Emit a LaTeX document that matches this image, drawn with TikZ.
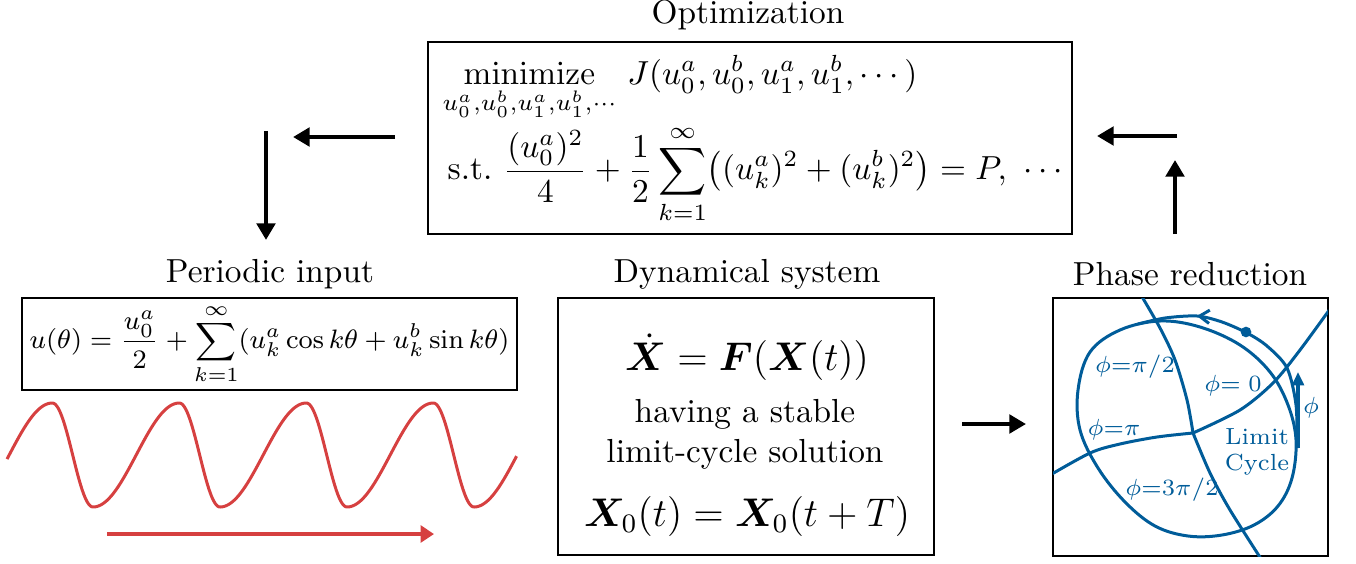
\documentclass[tikz,border=0pt]{standalone}
\usepackage{amsmath}
\usepackage{bm}
\usetikzlibrary{arrows.meta,decorations.markings}

\definecolor{cycleblue}{RGB}{0,92,153}
\definecolor{inputred}{RGB}{214,64,64}

\begin{document}
\begin{tikzpicture}[x=0.3pt, y=-0.3pt,
    box/.style={draw, line width=0.8pt, inner sep=0pt},
    flow/.style={line width=1.3pt, -{Triangle[length=5pt,width=5.5pt]}},
    iso/.style={cycleblue, line width=0.9pt},
    lbl/.style={cycleblue, font=\scriptsize, inner sep=0pt},
    declare function={wave(\t)=((\t-floor(\t))<0.68) ? (0-cos(180*(\t-floor(\t))/0.68)) : cos(180*(\t-floor(\t)-0.68)/0.32);}]
    \useasboundingbox (0,0) rectangle (1356,563);

    % Titles
    \node (optT) at (748,15) {Optimization};
    \node (inT) at (270,274) {Periodic input};
    \node (sysT) at (747,274) {Dynamical system};
    \node (phT) at (1190,274) {Phase reduction};

    % Optimization box
    \node[box, minimum width=193.2pt, minimum height=57.6pt] (opt) at (750,138) {};
    \node[anchor=base west, inner sep=0pt] (cost) at (442,85)
        {$\displaystyle\operatorname*{minimize}_{u_0^a,u_0^b,u_1^a,u_1^b,\cdots}\,J(u_0^a,u_0^b,u_1^a,u_1^b,\cdots)$};
    \node[anchor=base west, inner sep=0pt] (cons) at (447,180)
        {$\text{s.t.}\ \dfrac{(u_0^a)^2}{4}+\dfrac{1}{2}\displaystyle\sum_{k=1}^{\infty}\bigl((u_k^a)^2+(u_k^b)^2\bigr)=P,\ \cdots$};

    % Periodic input box and waveform
    \node[box, minimum width=148.5pt, minimum height=27.6pt, font=\footnotesize] (inbox) at (269.5,344)
        {$\displaystyle u(\theta)=\frac{u_0^a}{2}+\sum_{k=1}^{\infty}(u_k^a\cos k\theta+u_k^b\sin k\theta)$};
    \draw[inputred, line width=0.9pt] plot[domain=0.323:4.339, samples=400]
        ({93+(\x-1)*127}, {455-52*wave(\x)});

    % Dynamical system box
    \node[box, minimum width=112.8pt, minimum height=77.1pt] (sys) at (746,426.5) {};
    \node (ode) at (747,357) {\large$\dot{\bm X}=\bm F(\bm X(t))$};
    \node[align=center] (desc) at (745,434) {having a stable\\limit-cycle solution};
    \node (orbit) at (747,516) {\large$\bm X_0(t)=\bm X_0(t+T)$};

    % Phase reduction box
    \node[box, minimum width=82.5pt, minimum height=77.4pt] (ph) at (1190.5,427) {};
    \coordinate (ctr) at (1193,433);
    \begin{scope}
        \clip (1053,298) rectangle (1328,556);
        % isochrons
        \draw[iso] plot[smooth] coordinates {(ctr) (1240,410) (1273,383) (1300,350) (1335,302)};
        \draw[iso] plot[smooth] coordinates {(ctr) (1157,437) (1120,444) (1090,453) (1045,478)};
        \draw[iso] plot[smooth] coordinates {(ctr) (1187,400) (1175,360) (1160,328) (1138,290)};
        \draw[iso] plot[smooth] coordinates {(ctr) (1210,473) (1230,510) (1265,565)};
        % limit cycle
        \draw[iso] plot[smooth cycle, tension=0.6] coordinates {(1160,321) (1200,327) (1240,345)
            (1270,372) (1288,405) (1296,440) (1292,478) (1278,506) (1254,525) (1222,535)
            (1188,536) (1155,526) (1125,502) (1098,468) (1080,430) (1078,390) (1090,352) (1120,330)};
        % orbit direction
        \draw[iso, postaction={decorate}, decoration={markings,
            mark=at position 0.76 with {\arrow{Straight Barb[length=3pt,width=4pt]}}}]
            plot[smooth] coordinates {(1297,448) (1296,405) (1287,368) (1267,346) (1247,333)
            (1222,322) (1197,316) (1165,318) (1138,324)};
    \end{scope}
    \node[circle, fill=cycleblue, inner sep=0pt, minimum size=3.2pt] (state) at (1246,332) {};
    \coordinate (phi0) at (1298,448);
    \coordinate (phi1) at (1298,372);
    \draw[cycleblue, line width=1.1pt, -{Triangle[length=4pt,width=3.5pt]}] (phi0) -- (phi1);

    % Phase labels
    \node[lbl] (l90) at (1135,367) {$\phi{=}\pi/2$};
    \node[lbl] (l0) at (1233,386) {$\phi{=}\;0$};
    \node[lbl] (l180) at (1114,430) {$\phi{=}\pi$};
    \node[lbl] (l270) at (1172,490) {$\phi{=}3\pi/2$};
    \node[lbl, align=center] (lc) at (1257,452) {Limit\\Cycle};
    \node[lbl] (lphi) at (1311,408) {$\phi$};

    % Flow arrows
    \coordinate (optL0) at (395,137);
    \coordinate (optL1) at (293,137);
    \coordinate (down0) at (266,131);
    \coordinate (down1) at (266,240);
    \coordinate (sysR0) at (962,424);
    \coordinate (sysR1) at (1026,424);
    \coordinate (up0) at (1175,234);
    \coordinate (up1) at (1175,160);
    \coordinate (optR0) at (1177,136);
    \coordinate (optR1) at (1097,136);
    \draw[flow] (optL0) -- (optL1);
    \draw[flow] (down0) -- (down1);
    \draw[flow] (sysR0) -- (sysR1);
    \draw[flow] (up0) -- (up1);
    \draw[flow] (optR0) -- (optR1);

    % Time arrow under the input
    \coordinate (time0) at (107,534);
    \coordinate (time1) at (434,534);
    \draw[inputred, line width=1.4pt, -{Triangle[length=4pt,width=5pt]}] (time0) -- (time1);
\end{tikzpicture}
\end{document}
